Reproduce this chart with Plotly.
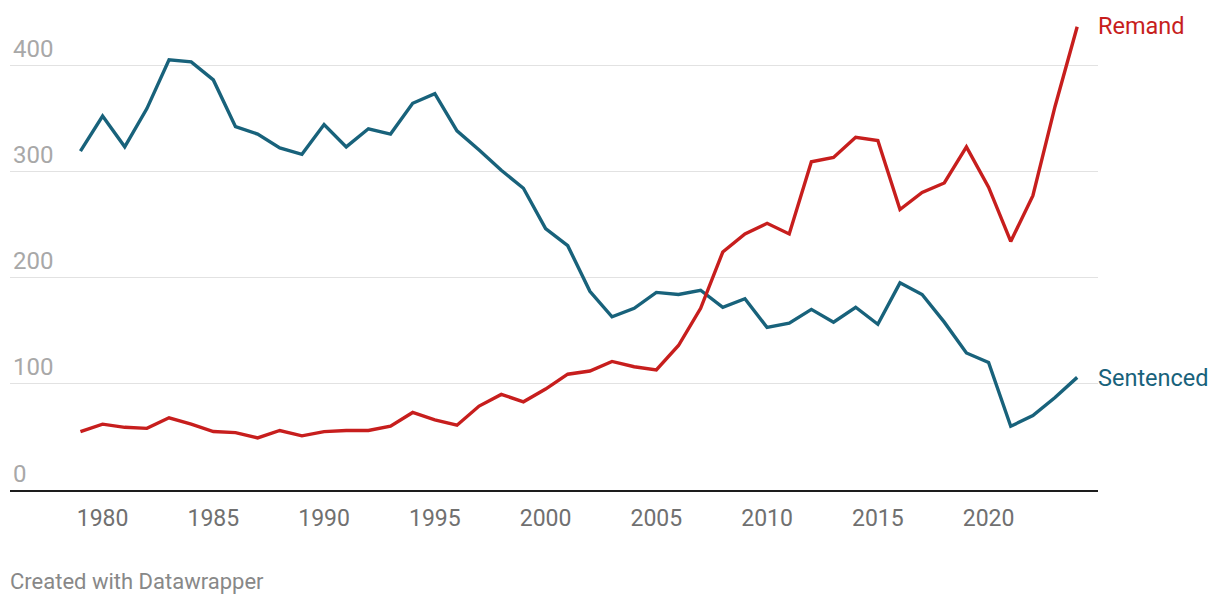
import plotly.graph_objects as go

years = list(range(1979, 2025))
sentenced = [319, 352, 323, 359, 405, 403, 386, 342, 335, 322, 316, 344, 323, 340, 335, 364,
             373, 338, 320, 301, 284, 246, 230, 187, 163, 171, 186, 184, 188, 172, 180, 153,
             157, 170, 158, 172, 156, 195, 184, 158, 129, 120, 60, 70, 87, 106]
remand = [55, 62, 59, 58, 68, 62, 55, 54, 49, 56, 51, 55, 56, 56, 60, 73,
          66, 61, 79, 90, 83, 95, 109, 112, 121, 116, 113, 136, 171, 224, 241, 251,
          241, 309, 313, 332, 329, 264, 280, 289, 323, 285, 234, 277, 361, 436]
y_ticks = [0, 100, 200, 300, 400]
x_ticks = [1980, 1985, 1990, 1995, 2000, 2005, 2010, 2015, 2020]

RED = "#c71e1d"
BLUE = "#18627b"

fig = go.Figure()
fig.add_trace(go.Scatter(x=years, y=sentenced, mode="lines", name="Sentenced",
                         line=dict(color=BLUE, width=3.4), cliponaxis=False))
fig.add_trace(go.Scatter(x=years, y=remand, mode="lines", name="Remand",
                         line=dict(color=RED, width=3.4), cliponaxis=False))

fig.add_annotation(x=years[-1], y=remand[-1], text="Remand", showarrow=False,
                   xanchor="left", yanchor="middle", xshift=19, yshift=1,
                   font=dict(family="Roboto", size=23.5, color=RED))
fig.add_annotation(x=years[-1], y=sentenced[-1], text="Sentenced", showarrow=False,
                   xanchor="left", yanchor="middle", xshift=19, yshift=-1,
                   font=dict(family="Roboto", size=23.5, color=BLUE))
fig.add_annotation(x=0, y=0, xref="paper", yref="paper", xanchor="left", yanchor="bottom",
                   text="Created with Datawrapper", showarrow=False,
                   xshift=-2, yshift=-106,
                   font=dict(family="Roboto", size=22, color="#888888"))

fig.update_layout(
    width=1220, height=606,
    margin=dict(l=2, r=130, t=14, b=124),
    paper_bgcolor="white", plot_bgcolor="white",
    showlegend=False,
    font=dict(family="Roboto"),
    xaxis=dict(range=[1975.82, 2024.94], tickmode="array", tickvals=x_ticks,
               ticktext=[str(v) for v in x_ticks], showgrid=False, zeroline=False,
               showline=True, linecolor="#1d1d1d", linewidth=2, ticks="",
               ticklabelstandoff=6,
               tickfont=dict(family="Roboto", size=23, color="#707070")),
    yaxis=dict(range=[0, 440.5], tickmode="array", tickvals=y_ticks,
               ticktext=[str(v) for v in y_ticks], showgrid=True, gridcolor="#e2e2e2",
               gridwidth=1, zeroline=False, showline=False, ticks="",
               ticklabelposition="inside top", ticklabelstandoff=0,
               tickfont=dict(family="Roboto", size=24, color="#a8a8a8")),
)

fig.write_html("out.html")
